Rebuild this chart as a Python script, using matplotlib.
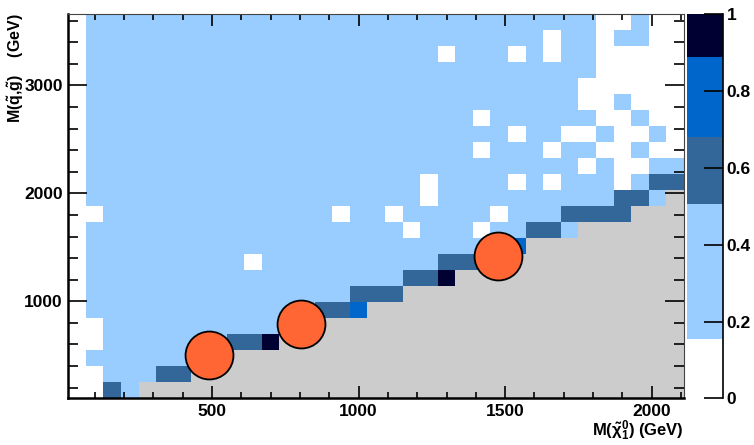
import numpy as np
import matplotlib
matplotlib.use("Agg")
import matplotlib.pyplot as plt
from matplotlib.colors import ListedColormap, BoundaryNorm
from matplotlib.ticker import MultipleLocator

plt.rcParams["font.family"] = "Liberation Sans"
plt.rcParams["font.weight"] = "bold"
plt.rcParams["mathtext.fontset"] = "custom"
plt.rcParams["mathtext.rm"] = "Liberation Sans:bold"
plt.rcParams["mathtext.it"] = "Liberation Sans:bold"
plt.rcParams["mathtext.bf"] = "Liberation Sans:bold"

# ---- scan grid ----
# neutralino mass bins (60 GeV wide) and squark/gluino mass bins
x_edges = np.arange(10, 2111, 60)
y_edges = np.linspace(100, 3660, 25)

# efficiency class of every cell, lowest row first
# w < 0.15, l ~ 0.3, s ~ 0.6, m ~ 0.8, n ~ 0.95, "." = excluded region
cells = [
    "ww" + "s" + "l" + "." * 31,
    "ww" + "lll" + "ss" + "." * 28,
    "w" + "l" * 6 + "ss" + "." * 26,
    "ww" + "l" * 7 + "ssn" + "." * 23,
    "ww" + "l" * 10 + "ss" + "." * 21,
    "w" + "l" * 13 + "ssm" + "." * 18,
    "w" + "l" * 15 + "sss" + "." * 16,
    "w" + "l" * 18 + "ssn" + "." * 13,
    "w" + "l" * 9 + "w" + "l" * 10 + "sss" + "." * 11,
    "w" + "l" * 23 + "s" + "m" + "." * 9,
    "w" + "l" * 18 + "w" + "lll" + "w" + "ll" + "ss" + "l" + "." * 6,
    "ww" + "l" * 13 + "w" + "ll" + "w" + "l" * 5 + "w" + "lll" + "ssss" + "...",
    "w" + "l" * 19 + "w" + "l" * 10 + "ss" + "l" + ".",
    "w" + "l" * 19 + "w" + "llll" + "w" + "l" + "w" + "lll" + "w" + "l" + "ss",
    "w" + "l" * 28 + "w" + "l" + "ww" + "ll",
    "w" + "l" * 22 + "w" + "lll" + "w" + "ll" + "ww" + "l" + "ww",
    "w" + "l" * 24 + "w" + "ll" + "ww" + "l" + "ww" + "l" + "w",
    "w" + "l" * 22 + "w" + "l" * 6 + "ww" + "l" + "ww",
    "w" + "l" * 28 + "ww" + "l" + "www",
    "w" + "l" * 28 + "w" * 6,
    "w" + "l" * 29 + "w" * 5,
    "w" + "l" * 20 + "w" + "lll" + "w" + "l" + "w" + "ll" + "wwwww",
    "w" + "l" * 26 + "w" + "ll" + "w" + "ll" + "ww",
    "w" + "l" * 29 + "wwlww",
]
class_value = {"w": 0.08, "l": 0.32, "s": 0.6, "m": 0.8, "n": 0.95}

# benchmark points
bench_x = [490, 805, 1475]
bench_y = [505, 790, 1420]

levels = [0, 0.155, 0.505, 0.68, 0.89, 1.0]
level_colors = ["#ffffff", "#99ccff", "#336699", "#0066cc", "#000033"]
cbar_ticks = [0, 0.2, 0.4, 0.6, 0.8, 1.0]
cbar_labels = ["0", "0.2", "0.4", "0.6", "0.8", "1"]

# ---- build the map ----
z = np.full((len(cells), len(cells[0])), np.nan)
for j, row in enumerate(cells):
    assert len(row) == 35, (j, len(row))
    for i, ch in enumerate(row):
        if ch in class_value:
            z[j, i] = class_value[ch]
z = np.ma.masked_invalid(z)

cmap = ListedColormap(level_colors)
norm = BoundaryNorm(levels, cmap.N)

W, H = 754, 445
fig = plt.figure(figsize=(W / 100, H / 100), dpi=100)
ax = fig.add_axes([68.3 / W, (H - 398.3) / H, (684 - 68.3) / W, 384 / H])
ax.set_facecolor("#cccccc")

mesh = ax.pcolormesh(x_edges, y_edges, z, cmap=cmap, norm=norm,
                     antialiased=False, linewidth=0)
ax.scatter(bench_x, bench_y, s=1190, c="#ff6633", edgecolors="black",
           linewidths=1.3, zorder=5)

ax.set_xlim(10, 2110)
ax.set_ylim(100, 3660)
ax.xaxis.set_major_locator(MultipleLocator(500))
ax.xaxis.set_minor_locator(MultipleLocator(100))
ax.yaxis.set_major_locator(MultipleLocator(1000))
ax.yaxis.set_minor_locator(MultipleLocator(200))
ax.tick_params(which="both", direction="in", top=True, right=True,
               labelsize=12.5, width=1.2, color="black")
ax.tick_params(axis="x", which="major", length=8.6, pad=4)
ax.tick_params(axis="x", which="minor", length=4.3)
ax.tick_params(axis="y", which="major", length=13.7, pad=4)
ax.tick_params(axis="y", which="minor", length=7.2)

for side in ["left", "bottom"]:
    ax.spines[side].set_linewidth(1.8)
for side in ["top", "right"]:
    ax.spines[side].set_linewidth(0.8)
    ax.spines[side].set_color("#444444")

# ---- colour scale ----
cax = fig.add_axes([686.7 / W, (H - 398.3) / H, 36 / W, 384 / H])
cb = fig.colorbar(mesh, cax=cax, spacing="proportional", ticks=cbar_ticks)
cb.ax.set_yticklabels(cbar_labels)
cb.outline.set_visible(False)
cax.minorticks_off()
cax.tick_params(direction="in", length=13.7, width=1.2, labelsize=12.5, pad=3)
cax.plot([1, 1], [0, 1], transform=cax.transAxes, color="black", lw=1.2,
         clip_on=False)

# ---- axis titles ----
fig.text(16 / W, 1 - 13 / H, r"M($\tilde{q}$,$\tilde{g}$)    (GeV)",
         rotation=90, ha="center", va="top", fontsize=11.5)
fig.text(684 / W, 1 - 443 / H, r"M($\tilde{\chi}^{0}_{1}$) (GeV)",
         ha="right", va="bottom", fontsize=12)

fig.savefig("out.png", dpi=100)
